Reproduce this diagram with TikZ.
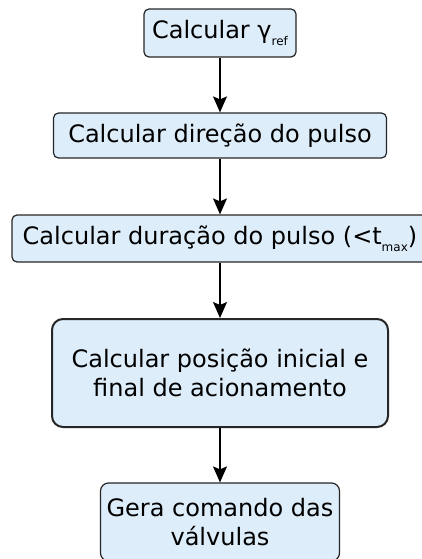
\documentclass[tikz,border=0pt]{standalone}
\usepackage{fontspec}
\setmainfont{DejaVu Sans}
\usetikzlibrary{arrows.meta}
\definecolor{boxfill}{RGB}{222,237,250}
\newcommand{\subtxt}[1]{\raisebox{-0.3em}{\fontsize{12}{12}\selectfont #1}}
\begin{document}
\begin{tikzpicture}[x=1pt,y=1pt,>={Stealth[length=16pt,width=14pt,inset=3pt]},
        box/.style={draw=black!85,fill=boxfill,line width=1.2pt,align=center,
            inner sep=0pt,font=\fontsize{24}{29}\selectfont},
        link/.style={->,line width=1.4pt}]
    \useasboundingbox (0,0) rectangle (421,-559);
    \node[box,rounded corners=5pt,minimum width=152pt,minimum height=48pt] (gref) at (220,-33) {Calcular γ\subtxt{ref}};
    \node[box,rounded corners=5pt,minimum width=333pt,minimum height=45pt] (dir) at (220,-135.5) {Calcular direção do pulso};
    \node[box,rounded corners=5pt,minimum width=416pt,minimum height=47pt] (dur) at (220,-238.5) {Calcular duração do pulso (<t\subtxt{max})};
    \node[box,rounded corners=11pt,line width=2pt,minimum width=336pt,minimum height=108pt] (pos) at (220,-373) {Calcular posição inicial e\\final de acionamento};
    \node[box,rounded corners=8pt,minimum width=239pt,minimum height=78pt] (cmd) at (220,-522) {Gera comando das\\válvulas};
    \draw[link] (gref) -- (dir);
    \draw[link] (dir) -- (dur);
    \draw[link] (dur) -- (pos);
    \draw[link] (pos) -- (cmd);
\end{tikzpicture}
\end{document}
